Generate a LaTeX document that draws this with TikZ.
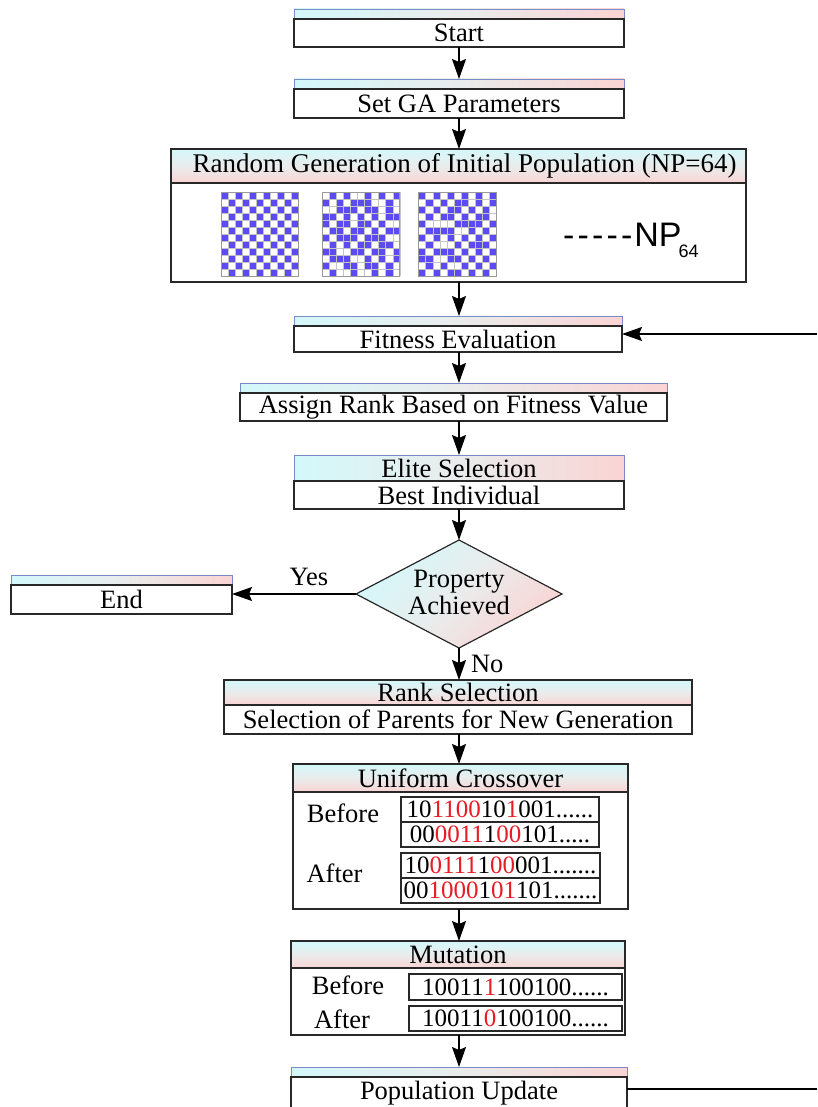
\documentclass[tikz,border=0pt]{standalone}
\usepackage{fontspec}
\setmainfont{Liberation Serif}
\setsansfont{Liberation Sans}
\usetikzlibrary{shapes.geometric,arrows.meta,calc}

\definecolor{hcyan}{RGB}{212,248,250}
\definecolor{hpink}{RGB}{250,212,212}
\definecolor{hmid}{RGB}{234,236,236}
\definecolor{framec}{RGB}{40,40,40}
\definecolor{stripc}{RGB}{120,140,200}
\definecolor{cellblue}{RGB}{92,74,242}
\definecolor{gridc}{RGB}{196,196,196}
\definecolor{bitred}{RGB}{232,28,36}

\newcommand\rd[1]{\textcolor{bitred}{#1}}
% one population member: 11 x 12 cells, 1 = filled
\newcommand\popgrid[3]{%
  \fill[white] (#1,#2) rectangle ++(77.55,84);
  \foreach \bits [count=\ri] in {#3} {
    \foreach \bit [count=\ci] in \bits {
      \ifnum\bit=1 \fill[cellblue] ({#1+(\ci-1)*7.05},{#2+(\ri-1)*7}) rectangle ++(7.05,7);\fi
    }
  }
  \foreach \i in {0,...,11} \draw[gridc, line width=0.6pt] ({#1+\i*7.05},#2) -- ++(0,84);
  \foreach \j in {0,...,12} \draw[gridc, line width=0.6pt] (#1,{#2+\j*7}) -- ++(77.55,0);
  \draw[gray!80, line width=0.8pt] (#1,#2) rectangle ++(77.55,84);
}

\tikzset{
  every node/.style={inner sep=0pt, outer sep=0pt, text=black,
    font=\fontsize{26.5}{28}\selectfont},
  strip/.style={rectangle, draw=stripc, line width=0.8pt,
    left color=hcyan, right color=hpink, middle color=hmid},
  vhead/.style={rectangle, draw=framec, line width=1.2pt,
    top color=hcyan, bottom color=hpink, middle color=hmid},
  body/.style={rectangle, draw=framec, line width=1.3pt, fill=white},
  bitbox/.style={rectangle, draw=framec, line width=1.1pt, fill=white,
    font=\fontsize{25}{27}\selectfont},
  decision/.style={diamond, draw=framec, line width=1.2pt,
    top color=hcyan, bottom color=hpink, middle color=hmid, shading angle=45},
  flow/.style={draw=black, line width=1.3pt,
    -{Stealth[length=20pt,width=14pt,inset=3pt]}},
  plain/.style={draw=black, line width=1.3pt},
}

\begin{document}
\begin{tikzpicture}[x=1pt,y=-1pt]
\useasboundingbox (0,0) rectangle (817,1107);
\fill[white] (0,0) rectangle (817,1107);
\clip (0,0) rectangle (817,1107);

% ---- start and parameters
\node[strip, minimum width=330pt, minimum height=10pt] (startH) at (459,14) {};
\node[body, minimum width=330pt, minimum height=28pt] (start) at (459,33) {Start};
\node[strip, minimum width=330pt, minimum height=10pt] (gaH) at (459,84) {};
\node[body, minimum width=330pt, minimum height=29pt] (ga) at (459,103.5) {Set GA Parameters};

% ---- initial population
\node[vhead, minimum width=575pt, minimum height=34pt, font=\fontsize{27}{28}\selectfont] (randH) at (458.5,166)
  {\kern12pt Random Generation of Initial Population (NP=64)};
\node[body, minimum width=575pt, minimum height=99pt] (rand) at (458.5,232.5) {};

\popgrid{221}{192}{
  {1,0,1,0,1,0,1,0,1,0,1},{0,1,0,1,0,1,0,1,0,1,0},
  {1,0,1,0,1,0,1,0,1,0,1},{0,1,0,1,0,1,0,1,0,1,0},
  {1,0,1,0,1,0,1,0,1,0,1},{0,1,0,1,0,1,0,1,0,1,0},
  {1,0,1,0,1,0,1,0,1,0,1},{0,1,0,1,0,1,0,1,0,1,0},
  {1,0,1,0,1,0,1,0,1,0,1},{0,1,0,1,0,1,0,1,0,1,0},
  {1,0,1,0,1,0,1,0,1,0,1},{0,1,0,1,0,1,0,1,0,1,0}}
\popgrid{322.3}{192}{
  {0,1,0,1,0,0,1,0,1,0,1},{1,0,1,0,1,1,1,0,0,1,0},
  {0,0,1,1,1,0,1,1,0,1,0},{1,1,0,1,0,1,0,1,0,1,1},
  {1,0,1,1,0,1,1,0,1,0,0},{0,1,1,0,1,1,0,1,0,1,1},
  {1,0,1,1,1,0,1,1,1,0,0},{0,1,0,1,0,1,1,0,1,1,0},
  {1,1,0,0,1,1,0,1,1,0,1},{0,1,1,1,0,0,1,0,1,0,1},
  {1,0,0,1,1,0,1,1,0,1,0},{0,1,0,0,1,0,0,1,0,1,0}}
\popgrid{418.7}{192}{
  {1,0,1,0,1,0,1,0,1,0,1},{0,1,0,1,0,1,1,0,1,0,1},
  {1,0,1,0,1,1,0,1,0,1,0},{0,1,0,1,1,0,1,0,1,1,0},
  {1,0,0,0,0,1,1,1,1,0,1},{0,1,1,1,1,0,0,1,0,1,0},
  {1,0,1,0,1,0,1,0,1,0,1},{0,1,0,0,0,1,0,1,1,1,0},
  {1,0,1,1,1,0,1,0,1,0,1},{1,1,0,0,1,1,0,1,0,1,0},
  {0,1,0,1,0,0,1,0,1,0,1},{1,0,1,0,1,1,0,1,0,1,0}}

\node[anchor=base west, font=\sffamily\fontsize{34}{34}\selectfont] (np) at (563,247)
  {-\kern3.2pt-\kern3.2pt-\kern3.2pt-\kern3.2pt-\kern2pt NP\kern-3pt\raisebox{-10pt}{\fontsize{18}{18}\selectfont 64}};

% ---- evaluation and ranking
\node[strip, minimum width=328pt, minimum height=10pt] (fitH) at (458,321) {};
\node[body, minimum width=328pt, minimum height=26pt] (fit) at (458,339) {Fitness Evaluation};
\node[strip, minimum width=427pt, minimum height=10pt] (rankvH) at (453.5,388) {};
\node[body, minimum width=427pt, minimum height=28pt] (rankv) at (453.5,407) {Assign Rank Based on Fitness Value};
\node[strip, minimum width=330pt, minimum height=26pt] (eliteH) at (459,468) {Elite Selection};
\node[body, minimum width=330pt, minimum height=28pt] (elite) at (459,495) {Best Individual};

% ---- termination test
\node[decision, minimum width=206pt, minimum height=108pt] (dec) at (459,594) {};
\node[align=center, font=\fontsize{26.5}{27}\selectfont] (decT) at (459,592) {Property\\Achieved};
\node[strip, minimum width=221pt, minimum height=10pt] (endH) at (121.5,580) {};
\node[body, minimum width=221pt, minimum height=29pt] (end) at (121.5,599.5) {End};

% ---- selection of parents
\node[vhead, minimum width=468pt, minimum height=25pt] (rselH) at (458,692.5) {Rank Selection};
\node[body, minimum width=468pt, minimum height=29pt] (rsel) at (458,719.5) {Selection of Parents for New Generation};

% ---- crossover
\node[vhead, minimum width=335pt, minimum height=28pt] (xoH) at (460.5,778) {Uniform Crossover};
\node[body, minimum width=335pt, minimum height=117pt] (xo) at (460.5,850.5) {};
\node (xoBef) at (343,813) {Before};
\node (xoAft) at (334.5,873) {After};
\node[bitbox, minimum width=198pt, minimum height=25pt] (xb1) at (500,809.5) {10\rd{1100}10\rd{1}001......};
\node[bitbox, minimum width=198pt, minimum height=25pt] (xb2) at (500,834.5) {00\rd{0011}1\rd{00}101.....};
\node[bitbox, minimum width=199pt, minimum height=25pt] (xa1) at (500.5,865.5) {10\rd{0111}1\rd{00}001.......};
\node[bitbox, minimum width=199pt, minimum height=25pt] (xa2) at (500.5,890.5) {00\rd{1000}1\rd{01}101.......};

% ---- mutation
\node[vhead, minimum width=334pt, minimum height=27pt] (mutH) at (458,954.5) {Mutation};
\node[body, minimum width=334pt, minimum height=67pt] (mut) at (458,1001.5) {};
\node (muBef) at (348,985) {Before};
\node (muAft) at (342,1019) {After};
\node[bitbox, minimum width=213pt, minimum height=26pt] (mb) at (515.5,987) {10011\rd{1}100100......};
\node[bitbox, minimum width=213pt, minimum height=25pt] (ma) at (515.5,1018.5) {10011\rd{0}100100......};

% ---- population update
\node[strip, minimum width=336pt, minimum height=10pt] (popH) at (459,1072) {};
\node[body, minimum width=336pt, minimum height=33pt] (pop) at (459,1093.5) {Population Update};

% ---- connectors
\draw[flow] (start.south) -- (start.south |- gaH.north);
\draw[flow] (ga.south) -- (ga.south |- randH.north);
\draw[flow] (ga.south |- rand.south) -- (ga.south |- fitH.north);
\draw[flow] (ga.south |- fit.south) -- (ga.south |- rankvH.north);
\draw[flow] (ga.south |- rankv.south) -- (ga.south |- eliteH.north);
\draw[flow] (elite.south) -- (dec.north);
\draw[flow] (dec.west) -- (dec.west -| end.east) node[pos=0.38, above=8pt] (yes) {Yes};
\draw[flow] (dec.south) -- (dec.south |- rselH.north) node[midway, right=12pt] (no) {No};
\draw[flow] (dec.south |- rsel.south) -- (dec.south |- xoH.north);
\draw[flow] (dec.south |- xo.south) -- (dec.south |- mutH.north);
\draw[flow] (dec.south |- mut.south) -- (dec.south |- popH.north);

% ---- loop back to evaluation
\coordinate (loopB) at (817,1089);
\coordinate (loopT) at (817,334);
\draw[plain] (pop.east |- loopB) -- (loopB);
\draw[flow] (loopT) -- (loopT -| fit.east);
\end{tikzpicture}
\end{document}
